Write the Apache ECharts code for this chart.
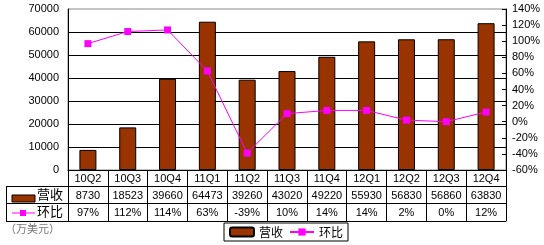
<!DOCTYPE html>
<html>
<head>
<meta charset="utf-8">
<script src="https://cdn.jsdelivr.net/npm/echarts@6/dist/echarts.min.js"></script>
<style>
html, body { margin: 0; padding: 0; background: #fff; }
#main { width: 544px; height: 245px; }
</style>
</head>
<body>
<div id="main"></div>
<script>
// quarters
const quarters = ['10Q2', '10Q3', '10Q4', '11Q1', '11Q2', '11Q3', '11Q4', '12Q1', '12Q2', '12Q3', '12Q4']
// 营收 (万美元)
const revenue = [8730, 18523, 39660, 64473, 39260, 43020, 49220, 55930, 56830, 56860, 63830]
// 环比 (%)
const qoq = [97, 112, 114, 63, -39, 10, 14, 14, 2, 0, 12]

const numFont = 'Liberation Sans'
const cjkFont = 'Noto Sans CJK SC'
const barColor = '#993300'
const lineColor = '#ff00ff'

// table rows under the plot are extra x axes pushed down with offset
const tableAxis = (data, offset, showLabel) => ({
	type: 'category',
	gridIndex: 0,
	position: 'bottom',
	offset: offset,
	data: data,
	axisLine: { show: true, onZero: false, lineStyle: { color: '#000', width: 1 } },
	axisTick: { show: false },
	axisLabel: { show: showLabel, interval: 0, margin: 4, color: '#000', fontSize: 11, fontFamily: numFont }
})

const option = {
	animation: false,
	backgroundColor: '#fff',
	grid: { left: 68, right: 38, top: 9, bottom: 75, show: true, borderColor: '#888', borderWidth: 1 },
	legend: {
		left: 224, top: 223,
		padding: [3, 5],
		borderColor: '#000', borderWidth: 1,
		itemWidth: 24, itemHeight: 9, itemGap: 6,
		textStyle: { fontSize: 12, fontFamily: cjkFont, color: '#000' },
		data: ['营收', '环比']
	},
	xAxis: [
		{
			type: 'category',
			data: quarters,
			axisLine: { onZero: false, lineStyle: { color: '#000', width: 1 } },
			axisTick: { show: true, interval: 0, length: 51, lineStyle: { color: '#000' } },
			axisLabel: { interval: 0, margin: 3, color: '#000', fontSize: 11, fontFamily: numFont }
		},
		tableAxis(revenue.map(String), 16, true),
		tableAxis(qoq.map(v => v + '%'), 33, true),
		tableAxis(quarters, 51, false)
	],
	yAxis: [
		{
			type: 'value', min: 0, max: 70000, interval: 10000,
			axisLine: { show: true, lineStyle: { color: '#000' } },
			axisTick: { show: false },
			axisLabel: { margin: 9, color: '#000', fontSize: 11, fontFamily: numFont, formatter: v => String(v) },
			splitLine: { show: true, showMaxLine: false, lineStyle: { color: '#000', width: 1 } }
		},
		{
			type: 'value', min: -60, max: 140, interval: 20, position: 'right',
			axisLine: { show: true, lineStyle: { color: '#000' } },
			axisTick: { show: true, inside: true, length: 4, lineStyle: { color: '#000' } },
			axisLabel: { margin: 6, color: '#000', fontSize: 11, fontFamily: numFont, formatter: '{value}%' },
			splitLine: { show: false }
		}
	],
	series: [
		{
			name: '营收', type: 'bar', xAxisIndex: 0, yAxisIndex: 0,
			barWidth: 17,
			itemStyle: { color: barColor, borderColor: '#000', borderWidth: 1 },
			data: revenue
		},
		{
			name: '环比', type: 'line', xAxisIndex: 0, yAxisIndex: 1,
			symbol: 'rect', symbolSize: 7,
			lineStyle: { color: lineColor, width: 1 },
			itemStyle: { color: lineColor },
			data: qoq
		}
	],
	graphic: [
		// left header cells of the data table
		{ type: 'line', shape: { x1: 6, y1: 186.5, x2: 68, y2: 186.5 }, style: { stroke: '#000', lineWidth: 1 } },
		{ type: 'line', shape: { x1: 6, y1: 203.5, x2: 68, y2: 203.5 }, style: { stroke: '#000', lineWidth: 1 } },
		{ type: 'line', shape: { x1: 6, y1: 221.5, x2: 68, y2: 221.5 }, style: { stroke: '#000', lineWidth: 1 } },
		{ type: 'line', shape: { x1: 6.5, y1: 186, x2: 6.5, y2: 222 }, style: { stroke: '#000', lineWidth: 1 } },
		{ type: 'rect', shape: { x: 12, y: 195, width: 23, height: 7 }, style: { fill: barColor, stroke: '#000', lineWidth: 1 } },
		{ type: 'text', left: 37, top: 188, style: { text: '营收', fontSize: 13, fontFamily: cjkFont, fill: '#000' } },
		{ type: 'line', shape: { x1: 12, y1: 213, x2: 35, y2: 213 }, style: { stroke: lineColor, lineWidth: 1 } },
		{ type: 'rect', shape: { x: 20, y: 210, width: 6, height: 6 }, style: { fill: lineColor } },
		{ type: 'text', left: 37, top: 205, style: { text: '环比', fontSize: 13, fontFamily: cjkFont, fill: '#000' } },
		{ type: 'text', left: 5, top: 223, style: { text: '（万美元）', fontSize: 11, fontFamily: cjkFont, fill: '#777' } }
	]
}

const chart = echarts.init(document.getElementById('main'))
chart.setOption(option)
</script>
</body>
</html>
